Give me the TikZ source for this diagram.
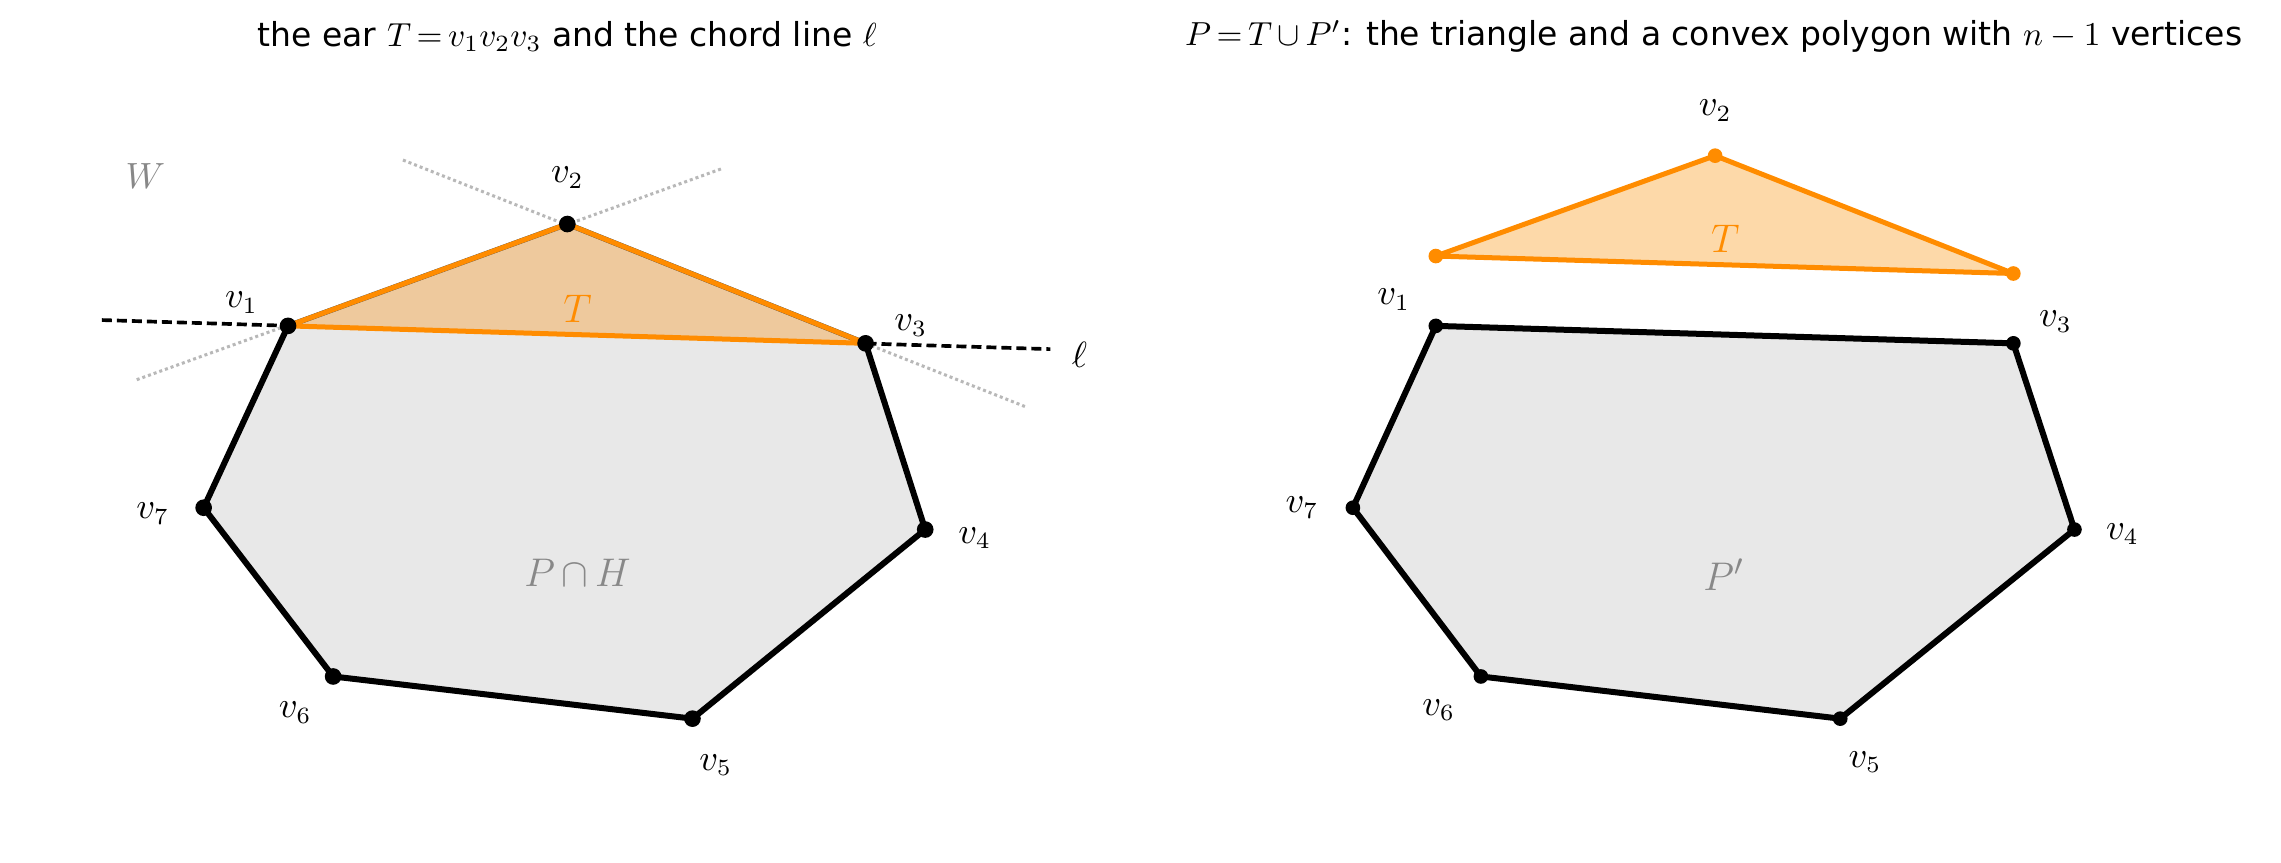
\documentclass[tikz,border=0pt]{standalone}
\usepackage{fontspec}
\setsansfont{DejaVu Sans}
\definecolor{dorange}{HTML}{FF8C00}
\definecolor{tanfill}{HTML}{EEC99D}
\definecolor{lightor}{HTML}{FDD9A9}
\definecolor{polyfill}{HTML}{E8E8E8}
\definecolor{lblgray}{HTML}{888888}
\definecolor{dotgray}{HTML}{B8B8B8}
\begin{document}
\begin{tikzpicture}[x=0.4364pt,y=-0.4364pt,
  edge/.style={line width=1.8pt,line join=round,line cap=round},
  oedge/.style={dorange,line width=1.5pt,line join=round},
  wline/.style={dotgray,line width=0.9pt,dash pattern=on 0.9pt off 0.9pt},
  chord/.style={line width=1.1pt,dash pattern=on 3pt off 1.5pt},
  vlbl/.style={font=\fontsize{10.5}{12}\selectfont,inner sep=0pt},
  big/.style={font=\fontsize{12.5}{14}\selectfont,inner sep=0pt},
  ttl/.style={font=\fontsize{9.9}{11}\selectfont\sffamily,inner sep=0pt}]
\useasboundingbox (0,0) rectangle (1568,592.6);
\fill[white] (0,0) rectangle (1568,592.6);
% titles
\node[ttl] (t1) at (390,25) {the ear $T\,{=}\,v_1v_2v_3$ and the chord line $\ell$};
\node[ttl] (t2) at (1178,25) {$P\,{=}\,T\,{\cup}\,P'$: the triangle and a convex polygon with $n-1$ vertices};
% ---------- left panel ----------
\coordinate (a1) at (198,224);
\coordinate (a2) at (390,154);
\coordinate (a3) at (595,236);
\coordinate (a4) at (636,364);
\coordinate (a5) at (476,494);
\coordinate (a6) at (229,465);
\coordinate (a7) at (140,349);
\coordinate (w1) at (94,261);
\coordinate (w2) at (496,116);
\coordinate (w3) at (277,110);
\coordinate (w4) at (706,280);
\coordinate (l1) at (70,220);
\coordinate (l2) at (722,240);
\draw[wline] (w1) -- (w2);
\draw[wline] (w3) -- (w4);
\draw[chord] (l1) -- (l2);
\fill[polyfill] (a1)--(a3)--(a4)--(a5)--(a6)--(a7)--cycle;
\draw[edge] (a3)--(a4)--(a5)--(a6)--(a7)--(a1);
\fill[tanfill] (a1)--(a2)--(a3)--cycle;
\draw[black!70,line width=1.6pt,line join=round,yshift=0.25pt] (a1)--(a2)--(a3);
\draw[oedge] (a1)--(a2)--(a3)--cycle;
\foreach \p in {a1,a2,a3,a4,a5,a6,a7} \fill (\p) circle[radius=2.5pt];
\node[vlbl] (la1) at (166,208) {$v_1$};
\node[vlbl] (la2) at (390,122) {$v_2$};
\node[vlbl] (la3) at (626,224) {$v_3$};
\node[vlbl] (la4) at (670,370) {$v_4$};
\node[vlbl] (la5) at (492,526) {$v_5$};
\node[vlbl] (la6) at (203,490) {$v_6$};
\node[vlbl] (la7) at (105,353) {$v_7$};
\node[vlbl] (lell) at (742,244) {$\ell$};
\node[vlbl,text=lblgray] (lW) at (100,121) {$W$};
\node[big,text=dorange] (lT) at (397,212) {$T$};
\node[big,text=lblgray] (lPH) at (397,394) {$P\,{\cap}\,H$};
% ---------- right panel ----------
\coordinate (b1) at (987,224);
\coordinate (b3) at (1384,236);
\coordinate (b4) at (1426,364);
\coordinate (b5) at (1265,494);
\coordinate (b6) at (1018,465);
\coordinate (b7) at (930,349);
\coordinate (c1) at (987,176);
\coordinate (c2) at (1179,107);
\coordinate (c3) at (1384,188);
\fill[polyfill] (b1)--(b3)--(b4)--(b5)--(b6)--(b7)--cycle;
\draw[edge] (b1)--(b3)--(b4)--(b5)--(b6)--(b7)--cycle;
\foreach \p in {b1,b3,b4,b5,b6,b7} \fill (\p) circle[radius=2.2pt];
\fill[lightor] (c1)--(c2)--(c3)--cycle;
\draw[oedge] (c1)--(c2)--(c3)--cycle;
\foreach \p in {c1,c2,c3} \fill[dorange] (\p) circle[radius=2.2pt];
\node[vlbl] (lb1) at (958,206) {$v_1$};
\node[vlbl] (lc2) at (1179,76) {$v_2$};
\node[vlbl] (lb3) at (1413,221) {$v_3$};
\node[vlbl] (lb4) at (1459,367) {$v_4$};
\node[vlbl] (lb5) at (1282,524) {$v_5$};
\node[vlbl] (lb6) at (989,488) {$v_6$};
\node[vlbl] (lb7) at (895,349) {$v_7$};
\node[big,text=dorange] (lT2) at (1186,164) {$T$};
\node[big,text=lblgray] (lP2) at (1185,395) {$P'$};
\end{tikzpicture}
\end{document}
